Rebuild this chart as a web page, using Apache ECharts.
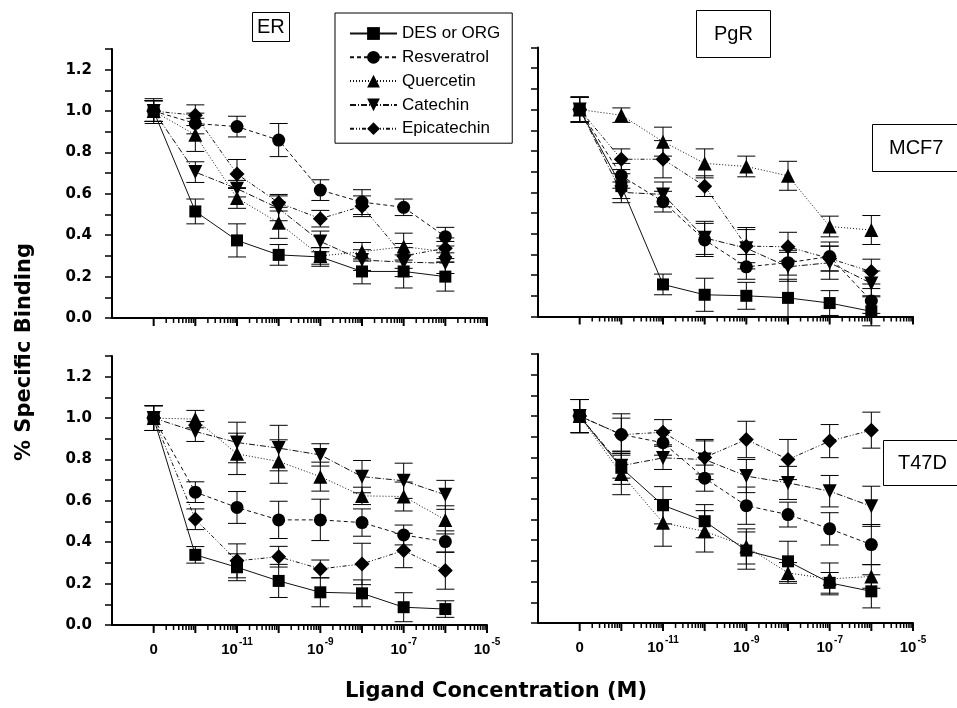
<!DOCTYPE html>
<html><head><meta charset="utf-8">
<script src="https://cdn.jsdelivr.net/npm/echarts@6/dist/echarts.min.js"></script>
<style>html,body{margin:0;padding:0;background:#fff}#c{width:957px;height:708px}</style>
</head><body><div id="c"></div>
<script>
// ---------- data ----------
const seriesNames = ['DES or ORG', 'Resveratrol', 'Quercetin', 'Catechin', 'Epicatechin'];
const concentrations = [0, 1e-12, 1e-11, 1e-10, 1e-9, 1e-8, 1e-7, 1e-6]; // M ("0" drawn at the 10^-13 slot)
const xTickValues = [-13, -11, -9, -7, -5];
const xTickBase = ['0', '10', '10', '10', '10'];
const xTickExp = ['', '-11', '-9', '-7', '-5'];
const panelLabels = ['ER', 'PgR', 'MCF7', 'T47D'];

// ER / MCF7
const erMcf7Des = [1.00, 0.515, 0.375, 0.305, 0.295, 0.225, 0.225, 0.200];
const erMcf7DesErr = [0.06, 0.06, 0.08, 0.05, 0.045, 0.06, 0.08, 0.07];
const erMcf7Res = [1.00, 0.94, 0.925, 0.86, 0.618, 0.56, 0.535, 0.393];
const erMcf7ResErr = [0.05, 0.05, 0.05, 0.08, 0.05, 0.06, 0.04, 0.045];
const erMcf7Que = [1.00, 0.885, 0.58, 0.46, 0.30, 0.32, 0.345, 0.32];
const erMcf7QueErr = [0.05, 0.08, 0.05, 0.075, 0.04, 0.045, 0.065, 0.05];
const erMcf7Cat = [1.00, 0.705, 0.625, 0.53, 0.37, 0.28, 0.27, 0.265];
const erMcf7CatErr = [0.05, 0.05, 0.04, 0.06, 0.05, 0.05, 0.07, 0.05];
const erMcf7Epi = [1.00, 0.98, 0.696, 0.557, 0.48, 0.54, 0.30, 0.337];
const erMcf7EpiErr = [0.05, 0.05, 0.07, 0.04, 0.04, 0.05, 0.06, 0.05];

// PgR / MCF7
const pgrMcf7Des = [1.00, 0.63, 0.155, 0.105, 0.10, 0.09, 0.065, 0.025];
const pgrMcf7DesErr = [0.06, 0.06, 0.05, 0.08, 0.065, 0.09, 0.06, 0.07];
const pgrMcf7Res = [1.00, 0.68, 0.555, 0.37, 0.24, 0.26, 0.29, 0.075];
const pgrMcf7ResErr = [0.06, 0.06, 0.05, 0.08, 0.06, 0.06, 0.07, 0.06];
const pgrMcf7Que = [1.00, 0.973, 0.845, 0.74, 0.725, 0.68, 0.435, 0.418];
const pgrMcf7QueErr = [0.06, 0.035, 0.07, 0.07, 0.05, 0.07, 0.05, 0.07];
const pgrMcf7Cat = [1.00, 0.60, 0.59, 0.38, 0.33, 0.24, 0.26, 0.16];
const pgrMcf7CatErr = [0.06, 0.05, 0.06, 0.08, 0.10, 0.07, 0.08, 0.06];
const pgrMcf7Epi = [1.00, 0.76, 0.76, 0.63, 0.34, 0.337, 0.28, 0.217];
const pgrMcf7EpiErr = [0.06, 0.05, 0.09, 0.05, 0.08, 0.07, 0.06, 0.06];

// ER / T47D
const erT47dDes = [1.00, 0.339, 0.279, 0.213, 0.158, 0.153, 0.086, 0.077];
const erT47dDesErr = [0.06, 0.04, 0.065, 0.08, 0.07, 0.065, 0.07, 0.04];
const erT47dRes = [1.00, 0.642, 0.568, 0.508, 0.508, 0.495, 0.435, 0.403];
const erT47dResErr = [0.06, 0.05, 0.077, 0.09, 0.10, 0.066, 0.048, 0.052];
const erT47dQue = [1.00, 0.995, 0.827, 0.79, 0.717, 0.624, 0.621, 0.508];
const erT47dQueErr = [0.06, 0.042, 0.10, 0.105, 0.07, 0.042, 0.07, 0.068];
const erT47dCat = [1.00, 0.935, 0.882, 0.855, 0.822, 0.717, 0.697, 0.629];
const erT47dCatErr = [0.06, 0.048, 0.098, 0.11, 0.054, 0.078, 0.085, 0.07];
const erT47dEpi = [1.00, 0.511, 0.31, 0.33, 0.271, 0.295, 0.36, 0.263];
const erT47dEpiErr = [0.06, 0.05, 0.082, 0.05, 0.043, 0.10, 0.083, 0.09];

// PgR / T47D
const pgrT47dDes = [1.00, 0.75, 0.569, 0.492, 0.35, 0.298, 0.194, 0.153];
const pgrT47dDesErr = [0.08, 0.08, 0.09, 0.08, 0.09, 0.097, 0.05, 0.08];
const pgrT47dRes = [1.00, 0.911, 0.871, 0.70, 0.567, 0.524, 0.455, 0.379];
const pgrT47dResErr = [0.08, 0.10, 0.06, 0.063, 0.09, 0.06, 0.078, 0.097];
const pgrT47dQue = [1.00, 0.72, 0.484, 0.443, 0.37, 0.242, 0.213, 0.225];
const pgrT47dQueErr = [0.08, 0.10, 0.113, 0.10, 0.085, 0.05, 0.077, 0.057];
const pgrT47dCat = [1.00, 0.76, 0.798, 0.79, 0.71, 0.677, 0.637, 0.564];
const pgrT47dCatErr = [0.08, 0.06, 0.056, 0.097, 0.08, 0.08, 0.076, 0.097];
const pgrT47dEpi = [1.00, 0.91, 0.922, 0.80, 0.887, 0.79, 0.879, 0.932];
const pgrT47dEpiErr = [0.08, 0.08, 0.061, 0.08, 0.088, 0.097, 0.08, 0.087];

// ---------- build ----------
const FONT_A = 'Liberation Sans, Arial, sans-serif';
const FONT_D = 'DejaVu Sans, sans-serif';
const lineTypes = ['solid', [4, 3], [1, 2], [6, 2, 1, 2], [4, 2, 1, 2, 1, 2]];
const symbols = ['rect', 'circle', 'triangle', 'triangle', 'diamond'];
const symbolRot = [0, 0, 0, 180, 0];
const symbolSizes = [12, 13, 14, 14, 15];

const xPos = concentrations.map(c => c === 0 ? -13 : Math.round(Math.log10(c) * 1e6) / 1e6);
const majorTicks = [], minorTicks = [];
for (let d = -13; d <= -5; d++) {
  majorTicks.push(d);
  if (d < -5) for (let k = 2; k <= 9; k++) minorTicks.push(d + Math.log10(k));
}

const grids = [
  { left: 112, top: 49, width: 375, height: 269 },
  { left: 538, top: 47.5, width: 375, height: 269 },
  { left: 112, top: 356, width: 375, height: 269 },
  { left: 538, top: 354, width: 375, height: 269 }
];
const panels = [
  { vals: [erMcf7Des, erMcf7Res, erMcf7Que, erMcf7Cat, erMcf7Epi], errs: [erMcf7DesErr, erMcf7ResErr, erMcf7QueErr, erMcf7CatErr, erMcf7EpiErr], showX: false, showY: true },
  { vals: [pgrMcf7Des, pgrMcf7Res, pgrMcf7Que, pgrMcf7Cat, pgrMcf7Epi], errs: [pgrMcf7DesErr, pgrMcf7ResErr, pgrMcf7QueErr, pgrMcf7CatErr, pgrMcf7EpiErr], showX: false, showY: false },
  { vals: [erT47dDes, erT47dRes, erT47dQue, erT47dCat, erT47dEpi], errs: [erT47dDesErr, erT47dResErr, erT47dQueErr, erT47dCatErr, erT47dEpiErr], showX: true, showY: true },
  { vals: [pgrT47dDes, pgrT47dRes, pgrT47dQue, pgrT47dCat, pgrT47dEpi], errs: [pgrT47dDesErr, pgrT47dResErr, pgrT47dQueErr, pgrT47dCatErr, pgrT47dEpiErr], showX: true, showY: false }
];

const xAxes = [], yAxes = [], series = [];
panels.forEach((p, i) => {
  xAxes.push({
    gridIndex: i, type: 'value', min: -14, max: -5, interval: 1,
    axisLine: { onZero: false, lineStyle: { color: '#000', width: 2 } },
    axisTick: { show: false }, splitLine: { show: false },
    axisLabel: {
      show: p.showX, margin: 12, color: '#000',
      formatter: v => {
        const k = xTickValues.findIndex(t => Math.abs(t - v) < 1e-6);
        if (k < 0) return '';
        return xTickExp[k] ? '{b|' + xTickBase[k] + '}{s|' + xTickExp[k] + '}' : '{b|' + xTickBase[k] + '}';
      },
      rich: {
        b: { fontFamily: FONT_A, fontWeight: 'bold', fontSize: 15, color: '#000', lineHeight: 20, verticalAlign: 'bottom' },
        s: { fontFamily: FONT_A, fontWeight: 'bold', fontSize: 10, color: '#000', lineHeight: 20, verticalAlign: 'top', padding: [0, 0, 9, 1] }
      }
    }
  });
  yAxes.push({
    gridIndex: i, type: 'value', min: 0, max: 1.3, interval: 0.1,
    axisLine: { show: true, onZero: false, lineStyle: { color: '#000', width: 2 } },
    axisTick: { show: true, length: 7, lineStyle: { color: '#000', width: 1.5 } },
    splitLine: { show: false },
    axisLabel: {
      show: p.showY, margin: 20, color: '#000', fontFamily: FONT_D, fontWeight: 'bold', fontSize: 15,
      formatter: v => (Math.round(v * 10) % 2 === 1 ? '' : v.toFixed(1))
    }
  });
  // log ticks on the concentration axis
  series.push({
    type: 'custom', name: '_ticks' + i, xAxisIndex: i, yAxisIndex: i, clip: false, silent: true, z: 5,
    data: majorTicks.map(t => [t, 8]).concat(minorTicks.map(t => [t, 5])),
    renderItem: (params, api) => {
      const pt = api.coord([api.value(0), 0]);
      const len = api.value(1);
      return { type: 'line', shape: { x1: pt[0], y1: pt[1], x2: pt[0], y2: pt[1] + len }, style: { stroke: '#000', lineWidth: len > 6 ? 2 : 1.5 } };
    }
  });
  seriesNames.forEach((name, s) => {
    series.push({
      type: 'custom', name: '_err' + i + '_' + s, xAxisIndex: i, yAxisIndex: i, clip: false, silent: true, z: 2,
      data: xPos.map((x, j) => [x, p.vals[s][j], p.errs[s][j]]),
      renderItem: (params, api) => {
        const x = api.value(0), y = api.value(1), e = api.value(2);
        const a = api.coord([x, y + e]), b = api.coord([x, y - e]);
        const hw = 9, st = { stroke: '#000', lineWidth: 1 };
        return {
          type: 'group', children: [
            { type: 'line', shape: { x1: a[0], y1: a[1], x2: b[0], y2: b[1] }, style: st },
            { type: 'line', shape: { x1: a[0] - hw, y1: a[1], x2: a[0] + hw, y2: a[1] }, style: st },
            { type: 'line', shape: { x1: b[0] - hw, y1: b[1], x2: b[0] + hw, y2: b[1] }, style: st }
          ]
        };
      }
    });
    series.push({
      type: 'line', name: name, xAxisIndex: i, yAxisIndex: i, z: 3,
      data: xPos.map((x, j) => [x, p.vals[s][j]]),
      symbol: symbols[s], symbolSize: symbolSizes[s], symbolRotate: symbolRot[s],
      showAllSymbol: true,
      lineStyle: { color: '#111', width: 1, type: lineTypes[s] },
      itemStyle: { color: '#000' }
    });
  });
});

const titleStyle = { fontFamily: FONT_A, fontSize: 20, fontWeight: 'normal', color: '#000', lineHeight: 20 };
const option = {
  animation: false,
  backgroundColor: '#fff',
  grid: grids,
  xAxis: xAxes,
  yAxis: yAxes,
  series: series,
  title: [
    { text: panelLabels[0], left: 252, top: 12, padding: [5, 5, 5, 5], borderColor: '#000', borderWidth: 1, textStyle: titleStyle },
    { text: panelLabels[1], left: 696, top: 10, padding: [14, 18, 14, 18], borderColor: '#000', borderWidth: 1, textStyle: titleStyle },
    { text: panelLabels[2], left: 872, top: 124, padding: [14, 40, 14, 17], borderColor: '#000', borderWidth: 1, textStyle: titleStyle },
    { text: panelLabels[3], left: 883, top: 440, padding: [13, 40, 13, 15], borderColor: '#000', borderWidth: 1, textStyle: titleStyle }
  ],
  legend: {
    data: seriesNames, orient: 'vertical', left: 335, top: 13,
    itemWidth: 47, itemHeight: 16, itemGap: 6.8,
    padding: [12, 12, 6, 14], borderColor: '#000', borderWidth: 1, backgroundColor: '#fff',
    textStyle: { fontFamily: FONT_A, fontSize: 17, color: '#000', lineHeight: 16 },
    selectedMode: false
  },
  graphic: [
    { type: 'text', x: 25, y: 352, rotation: Math.PI / 2, style: { text: '% Specific Binding', fontFamily: FONT_D, fontWeight: 'bold', fontSize: 21, fill: '#000', align: 'center', verticalAlign: 'middle' } },
    { type: 'text', x: 496, y: 692, style: { text: 'Ligand Concentration (M)', fontFamily: FONT_D, fontWeight: 'bold', fontSize: 21, fill: '#000', align: 'center', verticalAlign: 'middle' } }
  ]
};
const chart = echarts.init(document.getElementById('c'), null, { renderer: 'canvas' });
chart.setOption(option);
</script></body></html>
